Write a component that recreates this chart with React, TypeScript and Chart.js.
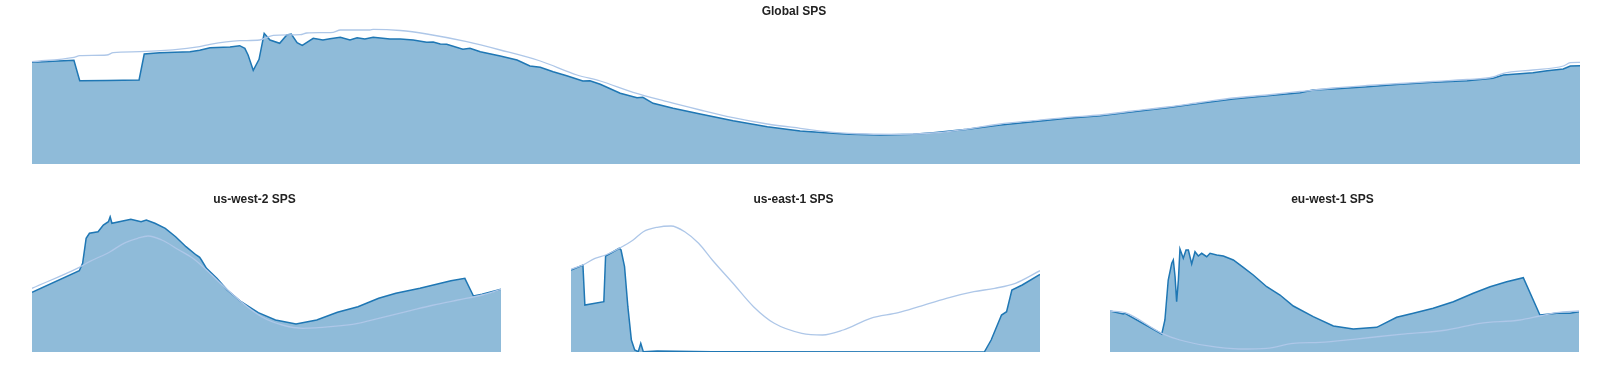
import React, { useEffect, useRef } from "react";
import { Chart, registerables } from "chart.js";

Chart.register(...registerables);

// Hours of day (0-24) and SPS values (thousands).
const Y_MAX = 137.6;

// ---------- Global SPS ----------
const globalHours = [0.0, 0.65, 0.74, 1.16, 1.66, 1.74, 1.98, 2.45, 2.6, 2.76, 3.07, 3.22, 3.3, 3.35, 3.43, 3.52, 3.6, 3.69, 3.84, 3.95, 4.02, 4.11, 4.19, 4.36, 4.51, 4.62, 4.78, 4.93, 5.04, 5.16, 5.29, 5.55, 5.71, 5.91, 6.12, 6.22, 6.33, 6.43, 6.68, 6.79, 6.95, 7.26, 7.52, 7.72, 7.88, 8.08, 8.29, 8.54, 8.65, 8.81, 9.12, 9.38, 9.47, 9.63, 9.94, 10.36, 10.87, 11.4, 11.91, 12.42, 12.68, 13.15, 13.66, 13.97, 14.5, 14.74, 15.01, 15.52, 16.05, 16.56, 17.07, 17.6, 18.11, 18.62, 19.15, 19.66, 19.86, 20.17, 20.7, 21.21, 21.72, 22.25, 22.65, 22.81, 23.27, 23.49, 23.74, 23.85, 24.0];
const globalCurrent = [101.7, 103.7, 83.3, 83.5, 84, 110, 111.3, 112.3, 113.7, 116.3, 117, 118.3, 115.7, 109, 93.7, 104.7, 130.7, 124, 120.7, 129, 130, 121.3, 118.7, 125.7, 124, 125.3, 126.7, 124, 126.3, 125, 126.7, 125, 125, 124, 121.7, 122, 120, 119.7, 114.7, 115.7, 112.3, 108, 104, 98, 96.7, 92.3, 88.3, 83, 83.3, 79.7, 70.7, 66.3, 66.7, 60.7, 55.7, 50, 43.3, 37.3, 33, 30.7, 29.7, 29, 29.7, 31.3, 34.7, 36.7, 39, 42.3, 45.7, 48.3, 52.3, 56.3, 60.7, 65, 68.3, 71.3, 74, 75, 77.3, 79.7, 81.7, 83.3, 85.7, 89, 91.3, 93.3, 95, 98, 98.3];
const globalPrevHours = [0.0, 0.65, 0.74, 1.16, 1.26, 1.67, 2.6, 2.76, 3.22, 3.53, 3.74, 4.16, 4.26, 4.67, 4.78, 5.24, 5.29, 5.71, 6.12, 6.74, 7.26, 7.88, 8.45, 8.81, 9.32, 9.85, 10.36, 10.87, 11.4, 11.91, 12.42, 12.95, 13.46, 13.97, 14.5, 15.01, 15.52, 16.05, 16.56, 17.07, 17.6, 18.11, 18.62, 19.15, 19.66, 20.17, 20.7, 21.21, 21.72, 22.25, 22.65, 22.81, 23.27, 23.74, 23.85, 24.0];
const globalPrev = [102.3, 106.7, 108.3, 109, 111.3, 112.3, 117.3, 119.7, 123.3, 124, 128.7, 129.3, 131, 131.7, 134, 134, 134.7, 133.5, 130, 122.3, 114, 103, 89, 83, 71.7, 62.3, 54, 46.3, 40, 35.7, 31.7, 30, 29.7, 31, 35, 40, 43.3, 46.7, 49, 53, 57, 61.5, 66, 69, 72.5, 76, 78.5, 80.5, 82.5, 84.5, 87, 90.7, 94, 98, 101.3, 101.7];

// ---------- us-west-2 SPS ----------
const usWest2Hours = [0.0, 2.42, 2.59, 2.77, 2.94, 3.38, 3.65, 3.91, 4.0, 4.09, 4.7, 5.06, 5.58, 5.85, 6.29, 6.82, 7.35, 7.88, 8.4, 8.58, 8.67, 8.93, 9.46, 9.99, 10.7, 11.58, 12.46, 13.51, 14.57, 15.63, 16.68, 17.74, 18.62, 19.85, 20.91, 21.44, 22.15, 22.59, 23.03, 24.0];
const usWest2Current = [59.7, 81.3, 88.7, 113.7, 118.7, 120.3, 127, 130.3, 135.3, 128.7, 131.3, 132.7, 130.3, 132, 128.7, 123.7, 115.3, 105.3, 97, 94.7, 92, 83.7, 73.7, 62, 50.3, 39.3, 32, 28, 32, 39.7, 45.3, 53.7, 58.7, 63.7, 68.7, 71.3, 73.7, 56, 57.7, 62.7];
const usWest2PrevHours = [0.0, 2.42, 2.94, 4.0, 4.7, 5.41, 5.94, 6.64, 7.52, 8.23, 8.93, 9.64, 10.7, 11.75, 12.81, 13.87, 15.28, 16.68, 17.74, 19.15, 20.56, 21.79, 23.03, 24.0];
const usWest2Prev = [63.7, 84.7, 90.3, 100.3, 108.7, 113.7, 116, 112, 102, 93.7, 82, 68.7, 50.3, 35.3, 27, 23.7, 25.3, 28.7, 33.7, 40.3, 47, 52, 57, 62.7];

// ---------- us-east-1 SPS ----------
const usEast1Hours = [0.0, 0.61, 0.71, 1.68, 1.77, 2.47, 2.56, 2.74, 2.91, 3.09, 3.26, 3.44, 3.57, 3.7, 4.41, 7.23, 21.15, 21.5, 22.03, 22.29, 22.56, 23.09, 24.0];
const usEast1Current = [82, 87, 47, 50.3, 96, 103.7, 102, 85.3, 45.3, 12, 2, 0.3, 8.7, 0.3, 1, 0.3, 0, 12, 37, 40.3, 62, 67, 77.5];
const usEast1PrevHours = [0.0, 0.61, 1.23, 1.77, 2.47, 3.18, 3.7, 4.41, 5.12, 5.82, 6.53, 7.23, 8.29, 9.34, 10.4, 11.81, 12.87, 13.93, 15.33, 16.75, 17.8, 19.21, 20.62, 21.68, 22.74, 24.0];
const usEast1Prev = [82.7, 87, 93.7, 97, 103.7, 112, 120.3, 124.7, 126, 120.3, 108.7, 92, 68.7, 45.3, 28.7, 18.7, 17, 22, 33.7, 39.3, 45.3, 53.7, 60.3, 63.7, 68.7, 81.3];

// ---------- eu-west-1 SPS ----------
const euWest1Hours = [0.0, 0.68, 0.77, 2.65, 2.81, 2.98, 3.16, 3.24, 3.33, 3.41, 3.5, 3.58, 3.75, 3.89, 4.01, 4.18, 4.35, 4.52, 4.69, 4.95, 5.12, 5.46, 5.8, 6.31, 6.82, 7.33, 8.02, 8.7, 9.38, 10.4, 11.43, 12.45, 13.65, 14.67, 15.52, 16.54, 17.57, 18.59, 19.45, 20.3, 21.15, 22.0, 22.86, 23.54, 24.0];
const euWest1Current = [41, 38, 38.7, 18, 32, 72, 88.7, 92, 75.3, 50.3, 72, 103, 93.7, 102, 102, 88, 100.3, 96, 98.7, 95.3, 98.7, 97, 96, 92, 84.7, 77, 65.3, 57, 46, 35.3, 26, 23, 24.7, 34.7, 38.7, 43.7, 50.3, 58.7, 65.3, 70.3, 74.3, 37, 38.7, 38.7, 40.3];
const euWest1PrevHours = [0.0, 0.77, 2.65, 3.58, 4.95, 6.65, 8.02, 9.38, 10.75, 12.45, 14.84, 17.23, 18.93, 20.98, 22.0, 22.86, 24.0];
const euWest1Prev = [41, 39.3, 18.7, 12, 6.3, 3, 3.7, 8.7, 9.7, 12.7, 17.7, 22, 28.7, 32, 36, 39.3, 41];

const DARK = "#1f77b4";
const FILL = "rgba(31,119,180,0.5)";
const LIGHT = "#aec7e8";

function toPoints(xs: number[], ys: number[]) {
  return xs.map((x, i) => ({ x, y: ys[i] }));
}

type Props = {
  title: string;
  curHours: number[];
  cur: number[];
  prevHours: number[];
  prev: number[];
  left: number;
  top: number;
  width: number;
  height: number;
};

function SpsChart(p: Props) {
  const ref = useRef<HTMLCanvasElement | null>(null);
  useEffect(() => {
    if (!ref.current) return;
    const chart = new Chart(ref.current, {
      type: "line",
      data: {
        datasets: [
          {
            label: "previous",
            data: toPoints(p.prevHours, p.prev),
            borderColor: LIGHT,
            borderWidth: 1.3,
            fill: false,
            pointRadius: 0,
            cubicInterpolationMode: "monotone",
          },
          {
            label: "current",
            data: toPoints(p.curHours, p.cur),
            borderColor: DARK,
            backgroundColor: FILL,
            borderWidth: 1.5,
            fill: "origin",
            pointRadius: 0,
            tension: 0,
          },
        ],
      },
      options: {
        responsive: false,
        animation: false,
        layout: { padding: 0 },
        plugins: {
          legend: { display: false },
          tooltip: { enabled: false },
          title: {
            display: true,
            text: p.title,
            color: "#222",
            font: { family: "'Liberation Sans', Arial, Helvetica, sans-serif", size: 12, weight: "bold" },
            padding: { top: 4, bottom: 8 },
          },
        },
        scales: {
          x: { type: "linear", min: 0, max: 24, display: false },
          y: {
            min: 0,
            max: Y_MAX,
            display: true,
            grid: { display: false },
            border: { display: false },
            ticks: { display: false },
            afterFit: (scale: any) => {
              scale.width = 24;
            },
          },
        },
      },
    });
    return () => chart.destroy();
  }, []);
  return (
    <canvas
      ref={ref}
      width={p.width}
      height={p.height}
      style={{ position: "absolute", left: p.left, top: p.top, width: p.width, height: p.height }}
    />
  );
}

export default function App() {
  return (
    <div style={{ position: "absolute", left: 0, top: 0, width: 1600, height: 365, background: "#fff" }}>
      <SpsChart title="Global SPS" curHours={globalHours} cur={globalCurrent} prevHours={globalPrevHours} prev={globalPrev} left={8} top={0} width={1572} height={164} />
      <SpsChart title="us-west-2 SPS" curHours={usWest2Hours} cur={usWest2Current} prevHours={usWest2PrevHours} prev={usWest2Prev} left={8} top={188} width={493} height={164} />
      <SpsChart title="us-east-1 SPS" curHours={usEast1Hours} cur={usEast1Current} prevHours={usEast1PrevHours} prev={usEast1Prev} left={547} top={188} width={493} height={164} />
      <SpsChart title="eu-west-1 SPS" curHours={euWest1Hours} cur={euWest1Current} prevHours={euWest1PrevHours} prev={euWest1Prev} left={1086} top={188} width={493} height={164} />
    </div>
  );
}
